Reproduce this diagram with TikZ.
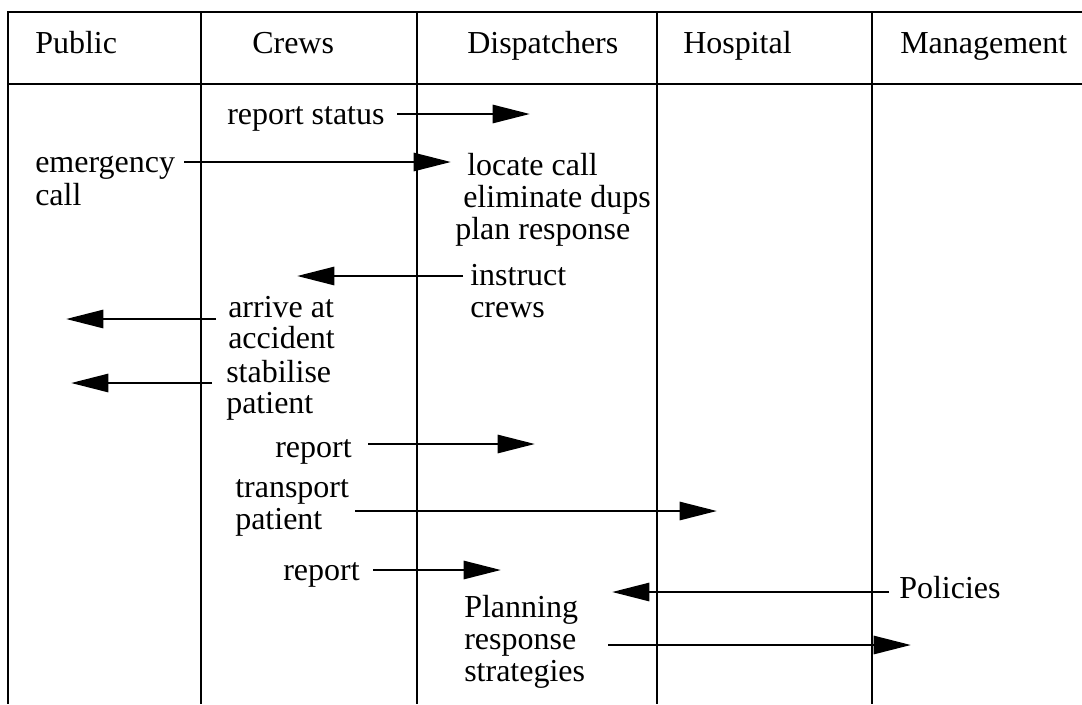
\documentclass[tikz,border=0pt]{standalone}
\usepackage{fontspec}
\setmainfont{Liberation Serif}
\usetikzlibrary{arrows.meta}
\begin{document}
\begin{tikzpicture}[x=0.75pt,y=-0.75pt,
  rule/.style={line width=2.2pt},
  flow/.style={line width=2.2pt,-{Triangle[length=28pt,width=13.5pt]}},
  lbl/.style={anchor=base west,inner sep=0pt,font=\fontsize{24}{24}\selectfont}]
\useasboundingbox (0,0) rectangle (1082,704);
% table frame
\draw[rule] (1082,12) -- (8,12) -- (8,704);
\draw[rule] (8,84) -- (1082,84);
\foreach \cx in {201,417,657,872} \draw[rule] (\cx,12) -- (\cx,704);
% headers
\node[lbl] (hPublic) at (35,53) {Public};
\node[lbl] (hCrews) at (252,53) {Crews};
\node[lbl] (hDisp) at (467,53) {Dispatchers};
\node[lbl] (hHosp) at (683,53) {Hospital};
\node[lbl] (hMgmt) at (900,53) {Management};
% labels
\node[lbl] (repstat) at (227,124) {report status};
\node[lbl] (emerg1) at (35,172) {emergency};
\node[lbl] (emerg2) at (35,205) {call};
\node[lbl] (loc1) at (467,175) {locate call};
\node[lbl] (loc2) at (463,207) {eliminate dups};
\node[lbl] (loc3) at (455,239) {plan response};
\node[lbl] (instr1) at (470,285) {instruct};
\node[lbl] (instr2) at (470,317) {crews};
\node[lbl] (arr1) at (228,317) {arrive at};
\node[lbl] (arr2) at (228,348) {accident};
\node[lbl] (stab1) at (226,382) {stabilise};
\node[lbl] (stab2) at (226,413) {patient};
\node[lbl] (rep1) at (275,457) {report};
\node[lbl] (trans1) at (235,497) {transport};
\node[lbl] (trans2) at (235,529) {patient};
\node[lbl] (rep2) at (283,580) {report};
\node[lbl] (pol) at (899,598) {Policies};
\node[lbl] (plan1) at (464,617) {Planning};
\node[lbl] (plan2) at (464,649) {response};
\node[lbl] (plan3) at (464,681) {strategies};
% connector ends
\coordinate (aS) at (397,114); \coordinate (aE) at (530,114);
\coordinate (bS) at (184,162); \coordinate (bE) at (451,162);
\coordinate (cS) at (463,276); \coordinate (cE) at (297,276);
\coordinate (dS) at (216,319); \coordinate (dE) at (66,319);
\coordinate (eS) at (212,383); \coordinate (eE) at (71,383);
\coordinate (fS) at (368,444); \coordinate (fE) at (535,444);
\coordinate (gS) at (355,511); \coordinate (gE) at (717,511);
\coordinate (hS) at (373,570); \coordinate (hE) at (501,570);
\coordinate (iS) at (889,592); \coordinate (iE) at (612,592);
\coordinate (jS) at (608,645); \coordinate (jE) at (911,645);
% connectors
\draw[flow] (aS) -- (aE);
\draw[flow] (bS) -- (bE);
\draw[flow] (cS) -- (cE);
\draw[flow] (dS) -- (dE);
\draw[flow] (eS) -- (eE);
\draw[flow] (fS) -- (fE);
\draw[flow] (gS) -- (gE);
\draw[flow] (hS) -- (hE);
\draw[flow] (iS) -- (iE);
\draw[flow] (jS) -- (jE);
\end{tikzpicture}
\end{document}
